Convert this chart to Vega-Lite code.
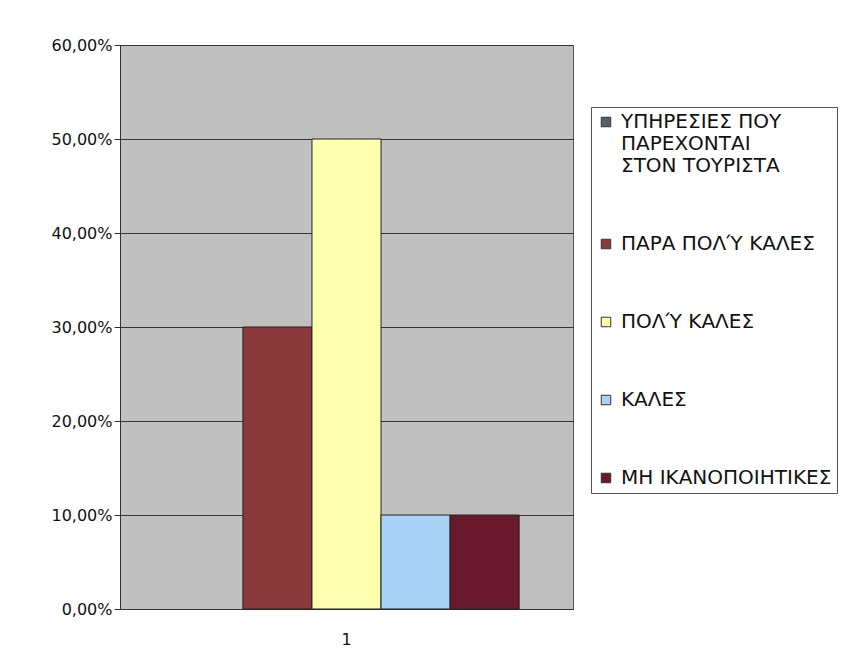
{
  "$schema": "https://vega.github.io/schema/vega-lite/v6.json",
  "width": 453,
  "height": 564,
  "autosize": "none",
  "padding": {"left": 120, "top": 45, "right": 270, "bottom": 63},
  "background": "white",
  "data": {
    "values": [
      {"cat": "1", "series": "ΥΠΗΡΕΣΙΕΣ ΠΟΥ ΠΑΡΕΧΟΝΤΑΙ ΣΤΟΝ ΤΟΥΡΙΣΤΑ", "value": 0},
      {"cat": "1", "series": "ΠΑΡΑ ΠΟΛΎ ΚΑΛΕΣ", "value": 0.30},
      {"cat": "1", "series": "ΠΟΛΎ ΚΑΛΕΣ", "value": 0.50},
      {"cat": "1", "series": "ΚΑΛΕΣ", "value": 0.10},
      {"cat": "1", "series": "ΜΗ ΙΚΑΝΟΠΟΙΗΤΙΚΕΣ", "value": 0.10}
    ]
  },
  "mark": {"type": "bar", "stroke": "#222222", "strokeWidth": 1},
  "encoding": {
    "x": {
      "field": "cat",
      "type": "nominal",
      "scale": {"paddingInner": 0, "paddingOuter": 0.156},
      "axis": {
        "title": null,
        "labelAngle": 0,
        "labelFont": "DejaVu Sans",
        "labelFontSize": 16,
        "labelColor": "#111111",
        "labelPadding": 22,
        "ticks": false,
        "domainColor": "#333333",
        "grid": false
      }
    },
    "xOffset": {
      "field": "series",
      "type": "nominal",
      "sort": null,
      "scale": {"paddingInner": 0, "paddingOuter": 0}
    },
    "y": {
      "field": "value",
      "type": "quantitative",
      "scale": {"domain": [0, 0.6], "nice": false},
      "axis": {
        "title": null,
        "values": [0, 0.1, 0.2, 0.3, 0.4, 0.5, 0.6],
        "labelExpr": "replace(format(datum.value, '.2%'), '.', ',')",
        "labelFont": "DejaVu Sans",
        "labelFontSize": 16,
        "labelColor": "#111111",
        "labelPadding": 2,
        "tickSize": 6,
        "tickColor": "#333333",
        "domainColor": "#333333",
        "gridColor": "#333333",
        "gridWidth": 1
      }
    },
    "strokeOpacity": {
      "condition": {"test": "datum.value == 0", "value": 0},
      "value": 1
    },
    "color": {
      "field": "series",
      "type": "nominal",
      "sort": null,
      "scale": {
        "domain": ["ΥΠΗΡΕΣΙΕΣ ΠΟΥ ΠΑΡΕΧΟΝΤΑΙ ΣΤΟΝ ΤΟΥΡΙΣΤΑ", "ΠΑΡΑ ΠΟΛΎ ΚΑΛΕΣ", "ΠΟΛΎ ΚΑΛΕΣ", "ΚΑΛΕΣ", "ΜΗ ΙΚΑΝΟΠΟΙΗΤΙΚΕΣ"],
        "range": ["#5a5f6c", "#8b3a3c", "#ffffb0", "#a9d2f7", "#6a1a2c"]
      },
      "legend": {
        "title": null,
        "orient": "none",
        "legendX": 471,
        "legendY": 62,
        "fillColor": "white",
        "strokeColor": "#555555",
        "padding": 5,
        "symbolType": "square",
        "symbolSize": 90,
        "symbolStrokeColor": "#333333",
        "symbolStrokeWidth": 1,
        "labelFont": "DejaVu Sans",
        "labelFontSize": 20,
        "labelColor": "#111111",
        "labelLimit": 300,
        "labelOffset": 5,
        "rowPadding": 58,
        "labelExpr": "datum.label == 'ΥΠΗΡΕΣΙΕΣ ΠΟΥ ΠΑΡΕΧΟΝΤΑΙ ΣΤΟΝ ΤΟΥΡΙΣΤΑ' ? ['ΥΠΗΡΕΣΙΕΣ ΠΟΥ', 'ΠΑΡΕΧΟΝΤΑΙ', 'ΣΤΟΝ ΤΟΥΡΙΣΤΑ'] : datum.label"
      }
    }
  },
  "config": {
    "view": {"fill": "#c0c0c0", "stroke": "#555555"}
  }
}
